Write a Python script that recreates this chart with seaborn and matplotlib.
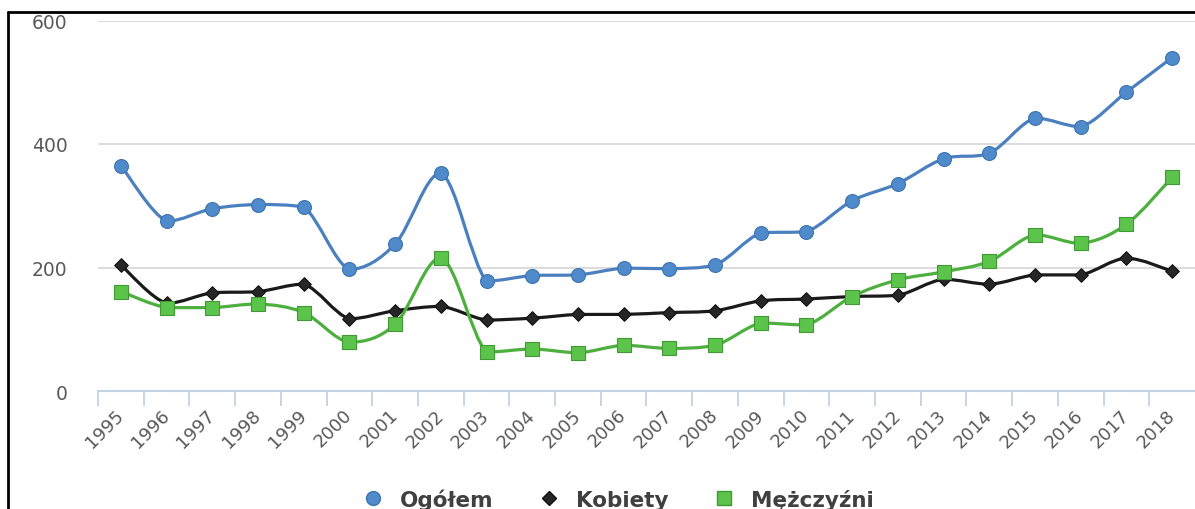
import numpy as np
import pandas as pd
import matplotlib.pyplot as plt
import seaborn as sns
from matplotlib.path import Path
from matplotlib.patches import PathPatch
from matplotlib.lines import Line2D

# values
years = list(range(1995, 2019))
ogolem = [365, 275, 295, 302, 298, 197, 238, 353, 178, 187, 188, 199,
          198, 204, 256, 258, 308, 336, 376, 385, 442, 428, 484, 540]
kobiety = [204, 142, 159, 161, 173, 117, 130, 137, 115, 118, 124, 124,
           127, 130, 146, 149, 153, 155, 181, 173, 188, 188, 215, 194]
mezczyzni = [161, 135, 135, 141, 127, 79, 108, 216, 63, 68, 62, 74,
             69, 74, 110, 107, 153, 180, 193, 210, 253, 239, 270, 346]
series_names = ['Ogółem', 'Kobiety', 'Mężczyźni']

# style per series: line colour, marker, marker face, marker edge, marker size
styles = {
    'Ogółem': ('#4a80bf', 'o', '#4f8bcb', '#3d73b0', 100),
    'Kobiety': ('#1a1a1a', 'D', '#262626', '#111111', 48),
    'Mężczyźni': ('#4caf3e', 's', '#5cc44b', '#3f9a34', 95),
}


def smooth_path(x, y):
    # smoothed line like the spreadsheet one: Bezier segments whose control
    # points stay inside each segment's vertical range (no overshoot)
    pts = np.column_stack([x, y]).astype(float)
    n = len(pts)
    verts = [pts[0]]
    codes = [Path.MOVETO]
    for i in range(n - 1):
        p0 = pts[max(i - 1, 0)]
        p1 = pts[i]
        p2 = pts[i + 1]
        p3 = pts[min(i + 2, n - 1)]
        c1 = p1 + (p2 - p0) / 6
        c2 = p2 - (p3 - p1) / 6
        lo, hi = min(p1[1], p2[1]), max(p1[1], p2[1])
        c1[1] = np.clip(c1[1], lo, hi)
        c2[1] = np.clip(c2[1], lo, hi)
        verts += [c1, c2, p2]
        codes += [Path.CURVE4] * 3
    return Path(verts, codes)


df = pd.DataFrame({'pos': np.arange(len(years)), 'Ogółem': ogolem,
                   'Kobiety': kobiety, 'Mężczyźni': mezczyzni})
long_df = df.melt(id_vars='pos', var_name='seria', value_name='wartosc')

sns.set_theme(style='white')
plt.rcParams['font.family'] = ['DejaVu Sans']

fig = plt.figure(figsize=(11.95, 5.10), dpi=100)
ax = fig.add_axes([98 / 1195, 1 - 392 / 510, 1 - 98 / 1195, (392 - 21.5) / 510])

for name in series_names:
    line_c, mk, face, edge, size = styles[name]
    sub = long_df[long_df['seria'] == name]
    ax.add_patch(PathPatch(smooth_path(sub['pos'], sub['wartosc']),
                           facecolor='none', edgecolor=line_c, lw=2.3,
                           zorder=3, capstyle='round', joinstyle='round'))
    sns.scatterplot(data=sub, x='pos', y='wartosc', marker=mk, s=size,
                    color=face, edgecolor=edge, linewidth=0.8, ax=ax,
                    zorder=4, legend=False)

ax.set_xlim(-0.5, 23.5)
ax.set_ylim(0, 600)
ax.set_yticks([0, 200, 400, 600])
ax.yaxis.grid(True, color='#d9d9d9', lw=1.3)
ax.set_axisbelow(True)
ax.set_xlabel('')
ax.set_ylabel('')

ax.set_xticks(np.arange(len(years)))
ax.set_xticklabels([str(y) for y in years])
ax.set_xticks(np.arange(-0.5, 23.5, 1), minor=True)
ax.tick_params(axis='x', which='major', length=0, pad=15, labelsize=13,
               labelcolor='#595959')
ax.tick_params(axis='x', which='minor', length=11, width=1.3,
               color='#c3d3e6', direction='out', bottom=True)
ax.tick_params(axis='y', length=0, pad=22, labelsize=13.5, labelcolor='#595959')
plt.setp(ax.get_xticklabels(), rotation=45, ha='right', va='center',
         rotation_mode='anchor')

for side in ['top', 'right', 'left']:
    ax.spines[side].set_visible(False)
ax.spines['bottom'].set_color('#c3d3e6')
ax.spines['bottom'].set_linewidth(1.5)

handles = []
for name in series_names:
    line_c, mk, face, edge, size = styles[name]
    handles.append(Line2D([], [], linestyle='', marker=mk, markersize=np.sqrt(size),
                          markerfacecolor=face, markeredgecolor=edge))
leg = fig.legend(handles, series_names, loc='center', ncol=3,
                 bbox_to_anchor=(618 / 1195, 10 / 510), frameon=False,
                 prop={'size': 15.5, 'weight': 'bold'}, columnspacing=2.1,
                 handletextpad=0.75, handlelength=1.0)
for t in leg.get_texts():
    t.set_color('#404040')

# black frame of the cropped screenshot
fig.add_artist(Line2D([8 / 1195, 1], [1 - 13 / 510, 1 - 13 / 510],
                      transform=fig.transFigure, color='black', lw=2))
fig.add_artist(Line2D([8 / 1195, 8 / 1195], [0, 1 - 13 / 510],
                      transform=fig.transFigure, color='black', lw=2))

fig.savefig('out.png', dpi=100)
